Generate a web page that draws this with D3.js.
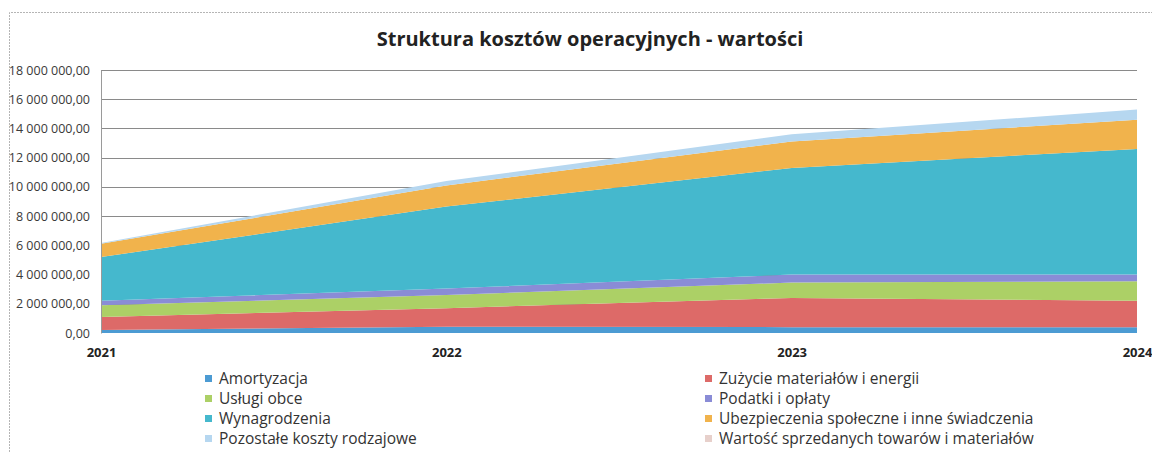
<!DOCTYPE html>
<html>
<head>
<meta charset="utf-8">
<script src="https://cdn.jsdelivr.net/npm/d3@7"></script>
<style>
  html, body { margin: 0; padding: 0; background: #fff; }
  svg { display: block; }
</style>
</head>
<body>
<svg id="chart" width="1152" height="452"></svg>
<script>
// ---- data ----
const years = ["2021", "2022", "2023", "2024"];
const seriesNames = [
  "Amortyzacja",
  "Zużycie materiałów i energii",
  "Usługi obce",
  "Podatki i opłaty",
  "Wynagrodzenia",
  "Ubezpieczenia społeczne i inne świadczenia",
  "Pozostałe koszty rodzajowe",
  "Wartość sprzedanych towarów i materiałów"
];
const amortyzacja      = [200000, 430000, 400000, 400000];
const zuzycie          = [900000, 1270000, 2000000, 1800000];
const uslugiObce       = [800000, 900000, 1050000, 1350000];
const podatki          = [300000, 450000, 550000, 450000];
const wynagrodzenia    = [3000000, 5600000, 7300000, 8600000];
const ubezpieczenia    = [900000, 1450000, 1800000, 2000000];
const pozostale        = [60000, 300000, 500000, 700000];
const wartoscSprzed    = [0, 0, 0, 0];
const yTicks = [0, 2000000, 4000000, 6000000, 8000000, 10000000, 12000000, 14000000, 16000000, 18000000];
const colors = ["#4c9bd3", "#dd6a68", "#acd066", "#8a8cd6", "#45b8cd", "#f1b34c", "#b6d7f0", "#e7d0cb"];
const title = "Struktura kosztów operacyjnych - wartości";

const seriesValues = [amortyzacja, zuzycie, uslugiObce, podatki, wynagrodzenia, ubezpieczenia, pozostale, wartoscSprzed];
const table = years.map((y, i) => {
  const row = { year: y };
  seriesNames.forEach((n, k) => row[n] = seriesValues[k][i]);
  return row;
});

// ---- layout ----
const svg = d3.select("#chart");
const plot = { left: 101, right: 1137, top: 70, bottom: 333 };

const x = d3.scalePoint().domain(years).range([plot.left, plot.right]);
const y = d3.scaleLinear().domain([0, 18000000]).range([plot.bottom, plot.top]);

const locale = d3.formatLocale({ decimal: ",", thousands: " ", grouping: [3], currency: ["", ""] });
const fmt = locale.format(",.2f");

// chart frame (left and top edges visible)
svg.append("path")
  .attr("d", `M9.5,452 L9.5,12.5 L1152,12.5`)
  .attr("fill", "none")
  .attr("stroke", "#b5b5b5")
  .attr("stroke-width", 1)
  .attr("stroke-dasharray", "2,1");

// title
svg.append("text")
  .attr("x", 590).attr("y", 46)
  .attr("text-anchor", "middle")
  .attr("font-family", "Open Sans, sans-serif")
  .attr("font-weight", "bold")
  .attr("font-size", 20)
  .attr("fill", "#222")
  .text(title);

// gridlines
svg.append("g")
  .selectAll("line")
  .data(yTicks.filter(d => d > 0))
  .join("line")
  .attr("x1", plot.left).attr("x2", plot.right)
  .attr("y1", d => Math.round(y(d)) + 0.5).attr("y2", d => Math.round(y(d)) + 0.5)
  .attr("stroke", "#8a8a8a")
  .attr("stroke-width", 1);

// stacked areas
const stack = d3.stack().keys(seriesNames);
const layers = stack(table);
const area = d3.area()
  .x(d => x(d.data.year))
  .y0(d => y(d[0]))
  .y1(d => y(d[1]));

svg.append("g")
  .selectAll("path")
  .data(layers)
  .join("path")
  .attr("d", area)
  .attr("fill", (d, i) => colors[i]);

// y axis
const yAxis = d3.axisLeft(y).tickValues(yTicks).tickFormat(fmt).tickSize(0).tickPadding(11);
const gy = svg.append("g").attr("transform", `translate(${plot.left},0)`).call(yAxis);
gy.select(".domain").attr("stroke", "#9a9a9a");
gy.selectAll("text")
  .attr("font-family", "Open Sans, sans-serif")
  .attr("font-size", 12.5)
  .attr("fill", "#3a3a3a");

// x axis
const xAxis = d3.axisBottom(x).tickSize(0).tickPadding(15);
const gx = svg.append("g").attr("transform", `translate(0,${plot.bottom})`).call(xAxis);
gx.select(".domain").remove();
gx.selectAll("text")
  .attr("font-family", "Open Sans, sans-serif")
  .attr("font-weight", "bold")
  .attr("font-size", 13)
  .attr("fill", "#222");

// legend
const legendCols = [205, 705];
const legendRows = [379, 399, 419, 439];
const lg = svg.append("g");
seriesNames.forEach((n, i) => {
  const cx = legendCols[i % 2];
  const cy = legendRows[Math.floor(i / 2)];
  lg.append("rect")
    .attr("x", cx).attr("y", cy - 4)
    .attr("width", 7).attr("height", 7)
    .attr("fill", colors[i]);
  lg.append("text")
    .attr("x", cx + 14).attr("y", cy)
    .attr("dy", "0.35em")
    .attr("font-family", "Open Sans, sans-serif")
    .attr("font-size", 15.5)
    .attr("fill", "#333")
    .text(n);
});
</script>
</body>
</html>
